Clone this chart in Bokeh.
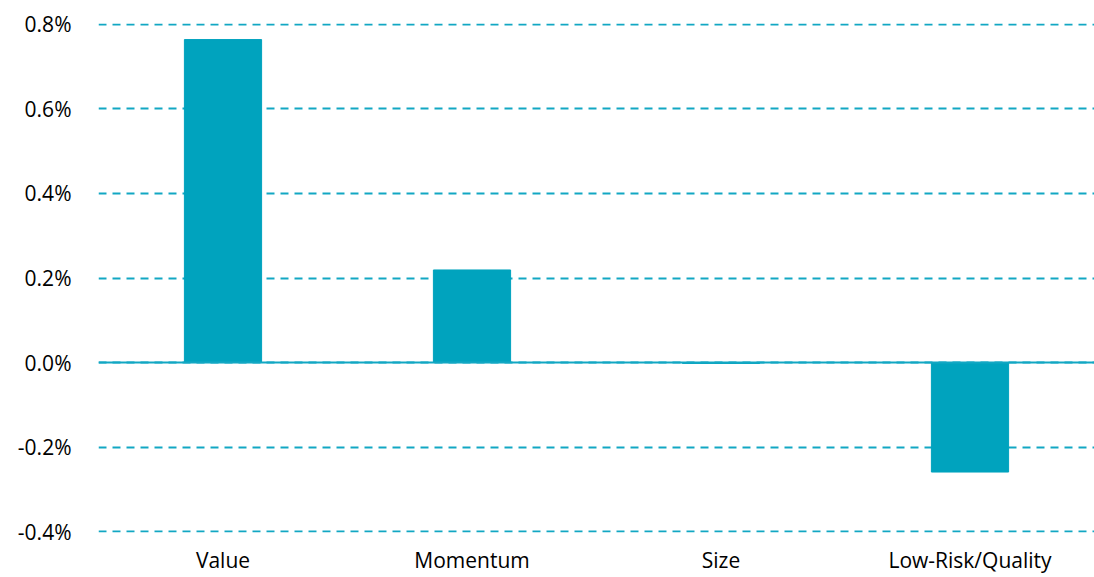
from bokeh.plotting import figure
from bokeh.models import FactorRange, Range1d, FixedTicker, PrintfTickFormatter, Span, ColumnDataSource
from bokeh.embed import file_html
from bokeh.resources import INLINE

categories = ["Value", "Momentum", "Size", "Low-Risk/Quality"]
values = [0.764, 0.219, -0.002, -0.259]
y_ticks = [-0.4, -0.2, 0.0, 0.2, 0.4, 0.6, 0.8]

BAR = "#00A3BE"
GRID = "#12A7C3"
FONT = "Open Sans"

src = ColumnDataSource(dict(cat=categories, val=values))

p = figure(
    x_range=FactorRange(factors=categories, range_padding=0),
    y_range=Range1d(-0.402, 0.802),
    width=1094, height=577,
    output_backend="svg", toolbar_location=None,
    min_border_left=98, min_border_right=0, min_border_top=23, min_border_bottom=45,
)
p.vbar(x="cat", top="val", bottom=0, width=0.31, source=src, fill_color=BAR, line_color=BAR)

p.outline_line_color = None
p.xgrid.grid_line_color = None
p.ygrid.ticker = FixedTicker(ticks=y_ticks)
p.ygrid.grid_line_color = GRID
p.ygrid.grid_line_dash = "8 6"
p.ygrid.grid_line_width = 2

p.add_layout(Span(location=0, dimension="width", line_color=GRID, line_width=2))

p.yaxis.ticker = FixedTicker(ticks=y_ticks)
p.yaxis.formatter = PrintfTickFormatter(format="%.1f%%")
for ax in (p.xaxis[0], p.yaxis[0]):
    ax.axis_line_color = None
    ax.major_tick_line_color = None
    ax.minor_tick_line_color = None
    ax.major_label_text_font = FONT
    ax.major_label_text_font_size = "21px"
    ax.major_label_text_color = "#000000"
p.yaxis.major_label_standoff = 21
p.xaxis.major_label_standoff = 7

open("out.html", "w").write(file_html(p, INLINE))
